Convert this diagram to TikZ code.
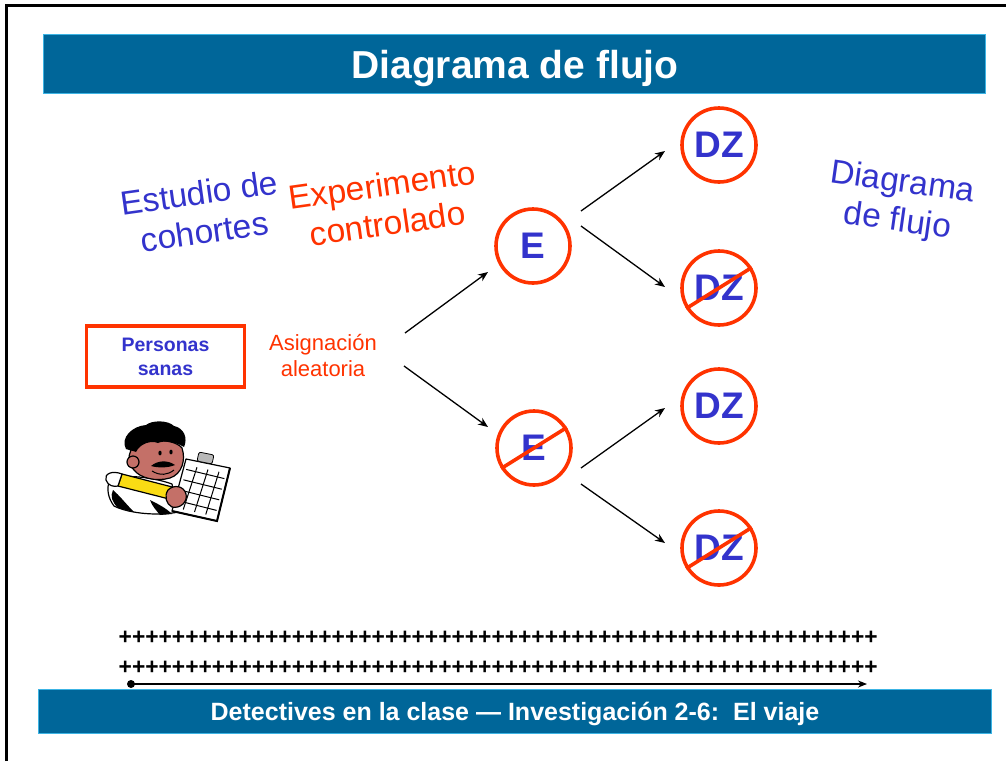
\documentclass[tikz,border=0pt]{standalone}
\usepackage{fontspec}
\setmainfont{Liberation Sans}
\usetikzlibrary{arrows.meta,calc}
\definecolor{barblue}{RGB}{0,102,153}
\definecolor{barline}{RGB}{60,180,228}
\definecolor{inkblue}{RGB}{51,51,204}
\definecolor{inkred}{RGB}{255,51,0}
\definecolor{skin}{RGB}{196,112,104}
\definecolor{pencil}{RGB}{250,220,20}
\begin{document}
\begin{tikzpicture}[x=1pt,y=-1pt,
  bar/.style={fill=barblue, draw=barline, line width=1pt},
  state/.style={circle, draw=inkred, line width=3.6pt, minimum size=74pt,
    inner sep=0pt, text=inkblue, font=\bfseries\fontsize{37}{37}\selectfont},
  strike/.style={draw=inkred, line width=3.6pt},
  flow/.style={-{Stealth[length=10pt,width=8pt]}, line width=1.3pt},
  heading/.style={text=inkblue, font=\fontsize{33.5}{39}\selectfont, align=center, inner sep=0pt},
  plusrow/.style={anchor=west, inner sep=0pt, font=\bfseries\fontsize{22.8}{22.8}\selectfont},
  outline/.style={draw=black, line width=1.2pt, line join=round}]
\useasboundingbox (0,0) rectangle (1006,761);
\fill[white] (0,0) rectangle (1006,761);

% slide frame
\draw[line width=2.6pt] (6.5,761) -- (6.5,5.5) -- (1006,5.5);

% title and footer bars
\path[bar] (43,34) rectangle (985,93);
\node[anchor=base, text=white, font=\bfseries\fontsize{39}{39}\selectfont, inner sep=0pt]
  (title) at (515,78) {Diagrama de flujo};
\path[bar] (38,689) rectangle (991,733);
\node[anchor=base, text=white, font=\bfseries\fontsize{25}{25}\selectfont, inner sep=0pt]
  (footer) at (515,720) {Detectives en la clase — Investigación 2-6:\ \ El viaje};

% tilted headings
\node[heading, rotate=8] (cohort) at (202,212) {Estudio de\\cohortes};
\node[heading, rotate=8, text=inkred] (exper) at (385,204) {Experimento\\controlado};
\node[heading, rotate=-8] (flujo) at (900,203) {Diagrama\\de flujo};

% starting group
\node[draw=inkred, line width=3.4pt, minimum width=158pt, minimum height=61pt,
  text=inkblue, font=\bfseries\fontsize{19.5}{24}\selectfont, align=center]
  (sanas) at (165.5,356.5) {Personas\\sanas};
\node[text=inkred, font=\fontsize{22}{26}\selectfont, align=center, inner sep=0pt]
  (asig) at (323,355) {Asignación\\aleatoria};

% exposure and outcome states
\node[state] (e1) at (533,246) {E};
\node[state] (e2) at (534,448) {E};
\node[state] (d1) at (719,145) {DZ};
\node[state] (d2) at (719,288) {DZ};
\node[state] (d3) at (719,406) {DZ};
\node[state] (d4) at (719,548) {DZ};
\draw[strike] (d2.212) -- (d2.32);
\draw[strike] (e2.212) -- (e2.32);
\draw[strike] (d4.212) -- (d4.32);

% branches
\coordinate (a1) at (405,333);
\coordinate (a2) at (404,366);
\draw[flow] (a1) -- ($(e1)+(-45,26)$);
\draw[flow] (a2) -- ($(e2)+(-46,-21)$);
\draw[flow] ($(e1)+(48,-35)$) -- ($(d1)+(-54,6)$);
\draw[flow] ($(e1)+(48,-20)$) -- ($(d2)+(-54,-1)$);
\draw[flow] ($(e2)+(47,20)$) -- ($(d3)+(-54,2)$);
\draw[flow] ($(e2)+(47,36)$) -- ($(d4)+(-54,-5)$);

% time line
\node[plusrow] (row1) at (118.5,638) {+++++++++++++++++++++++++++++++++++++++++++++++++++++++++};
\node[plusrow] (row2) at (118.5,668) {+++++++++++++++++++++++++++++++++++++++++++++++++++++++++};
\coordinate (t0) at (131,684);
\coordinate (t1) at (867,684);
\fill (t0) circle (4pt);
\draw[-{Stealth[length=9pt,width=7pt]}, line width=1.6pt] (t0) -- (t1);

% researcher with pencil and clipboard
\begin{scope}
  % shirt
  \path[outline, fill=white] (110,480) .. controls (118,474) and (150,476) .. (172,484)
    -- (178,512) .. controls (160,516) and (130,514) .. (114,506)
    .. controls (108,498) and (106,488) .. (110,480) -- cycle;
  \fill[black] (113,490) .. controls (120,496) and (126,504) .. (134,512)
    -- (118,508) .. controls (112,502) and (110,496) .. (113,490) -- cycle;
  \fill[black] (150,500) .. controls (158,504) and (166,508) .. (172,514)
    -- (160,515) .. controls (156,510) and (152,506) .. (150,500) -- cycle;
  % clipboard
  \path[outline, fill=white] (186,459) -- (230,468) -- (217,521) -- (172,511) -- cycle;
  \draw[line width=2pt] (230,468) -- (217,521) -- (172,511);
  \foreach \t in {0.25,0.5,0.75} {
    \draw[line width=1pt] ($(186,459)!\t!(230,468)+(0,6)$) -- ($(172,511)!\t!(217,521)+(0,-4)$);
  }
  \foreach \t in {0.2,0.4,0.6,0.8} {
    \draw[line width=1pt] ($(186,459)!\t!(172,511)+(3,0)$) -- ($(230,468)!\t!(217,521)+(-3,0)$);
  }
  \path[draw=black, line width=0.8pt, fill=gray!55, rounded corners=2pt]
    (199,452) -- (214,455) -- (212,464) -- (197,461) -- cycle;
  % face and hair
  \path[outline, fill=skin] (131,450) .. controls (136,440) and (172,436) .. (182,448)
    .. controls (186,460) and (182,474) .. (170,478)
    .. controls (156,482) and (140,478) .. (134,470)
    .. controls (128,464) and (128,456) .. (131,450) -- cycle;
  \path[outline, fill=skin] (133,462) circle (6pt);
  \fill[black] (126,449) .. controls (120,438) and (132,426) .. (146,425)
    .. controls (152,420) and (168,420) .. (174,426)
    .. controls (184,428) and (188,438) .. (184,447)
    .. controls (176,442) and (164,440) .. (158,443)
    .. controls (150,440) and (140,444) .. (136,452)
    .. controls (132,450) and (129,451) .. (126,449) -- cycle;
  \fill[black] (160,453) ellipse (1.6pt and 2.4pt);
  \fill[black] (171,452) ellipse (1.6pt and 2.4pt);
  \fill[black] (151,466) .. controls (158,460) and (168,460) .. (175,465)
    .. controls (168,468) and (158,468) .. (151,466) -- cycle;
  \draw[line width=1pt] (152,471) .. controls (160,476) and (168,475) .. (174,470);
  % pencil
  \path[outline, fill=pencil] (122,474) -- (180,489) -- (177,501) -- (118,486) -- cycle;
  \path[outline, fill=white] (122,474) .. controls (112,470) and (104,474) .. (106,480)
    .. controls (108,486) and (114,487) .. (118,486) -- cycle;
  % hand
  \path[outline, fill=skin] (168,490) .. controls (174,484) and (184,486) .. (186,494)
    .. controls (188,502) and (180,509) .. (172,507)
    .. controls (166,504) and (164,496) .. (168,490) -- cycle;
\end{scope}
\end{tikzpicture}
\end{document}
